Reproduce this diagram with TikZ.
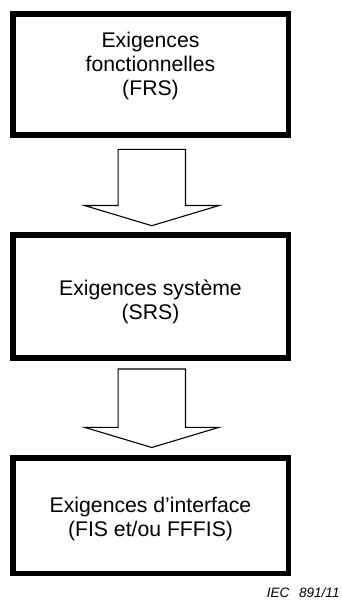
\documentclass[tikz,border=0pt]{standalone}
\usepackage{fontspec}
\setmainfont{Liberation Sans}
\newcommand\flowarrow[3]{%
  % #1 shaft top, #2 wing line, #3 tip (all y values)
  \draw[arrowline] (118.1,#1) -- (185.5,#1) -- (185.5,#2) -- (219.1,#2)
    -- (151.8,#3) -- (84.5,#2) -- (118.1,#2) -- cycle;}
\begin{document}
\begin{tikzpicture}[x=0.5pt,y=-0.5pt,
  reqbox/.style={draw, line width=2.75pt, minimum width=137.75pt, inner sep=0pt},
  reqtext/.style={align=center, inner sep=0pt, font=\fontsize{10.6}{12}\selectfont},
  arrowline/.style={draw, line width=0.55pt, line join=miter},
  figref/.style={inner sep=0pt, font=\fontsize{6.8}{8}\selectfont\itshape}]
\useasboundingbox (0,0) rectangle (342,601);

\node[reqbox, minimum height=60.5pt]  (frs) at (150.5,74.25) {};
\node[reqbox, minimum height=61.6pt]  (srs) at (150.5,296.4) {};
\node[reqbox, minimum height=57.75pt] (fis) at (150.5,515.5) {};

\node[reqtext] (frstext) at (150.5,66.3) {Exigences\\fonctionnelles\\(FRS)};
\node[reqtext] (srstext) at (150.5,301.5) {Exigences système\\(SRS)};
\node[reqtext] (fistext) at (150.5,518.8) {Exigences d’interface\\(FIS et/ou FFFIS)};

\flowarrow{149.3}{205.5}{225.7}
\flowarrow{369}{427.3}{447.5}

\node[figref, anchor=base east] (ref) at (340,597) {IEC\hspace{0.7em}891/11};
\end{tikzpicture}
\end{document}
